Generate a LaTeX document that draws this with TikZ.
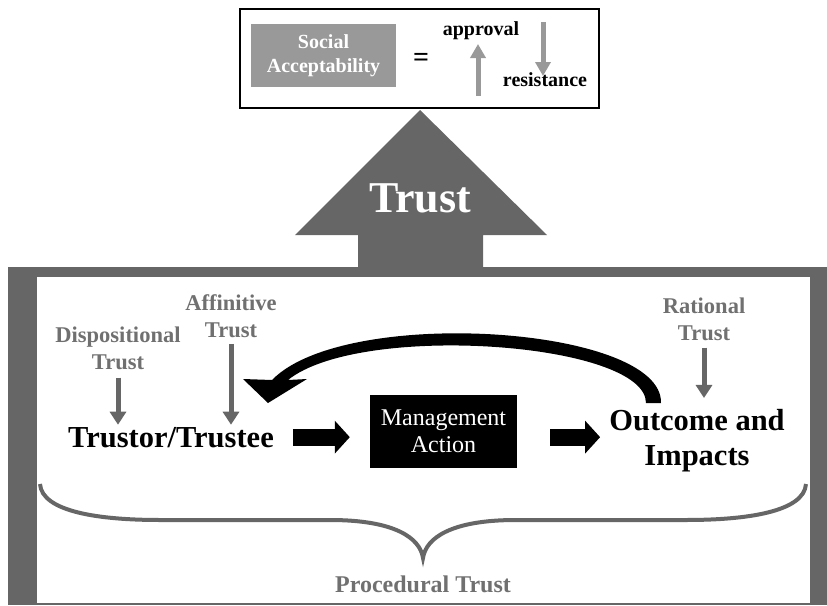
\documentclass[tikz,border=0pt]{standalone}
\usepackage{fontspec}
\setmainfont{Liberation Serif}
\usetikzlibrary{arrows.meta}

\definecolor{framegray}{RGB}{102,102,102}
\definecolor{labelgray}{RGB}{112,112,112}
\definecolor{softgray}{RGB}{153,153,153}

\begin{document}
\begin{tikzpicture}[x=1pt, y=-1pt,
    graylabel/.style={text=labelgray, font=\bfseries\fontsize{22.5}{27}\selectfont, align=center, inner sep=0pt},
    mainlabel/.style={font=\bfseries\fontsize{30.5}{35}\selectfont, align=center, inner sep=0pt},
    grayarrow/.style={draw=framegray, line width=5pt, -{Triangle[length=13pt,width=16pt]}},
    softarrow/.style={draw=softgray, line width=5pt, -{Triangle[length=14pt,width=15pt]}},
    fatarrow/.style={draw=black, line width=17pt, -{Triangle[length=15pt,width=32pt]}}]

    \useasboundingbox (0,0) rectangle (827,605);

    % -------------------------------
    % acceptability box
    % -------------------------------
    \draw[line width=1.2pt] (240,9) rectangle (599,108);
    \node[fill=softgray, text=white, font=\bfseries\fontsize{20}{24}\selectfont, align=center,
          minimum width=145pt, minimum height=63pt] (social) at (323.5,55.5) {Social\\Acceptability};
    \node[font=\bfseries\fontsize{28}{30}\selectfont] (equals) at (421,60) {=};
    \node[font=\bfseries\fontsize{20}{22}\selectfont, anchor=base, inner sep=0pt] (approval) at (481,35) {approval};
    \node[font=\bfseries\fontsize{20}{22}\selectfont, anchor=base, inner sep=0pt] (resistance) at (545,86) {resistance};

    \coordinate (upfoot) at (478,96);
    \coordinate (uptip) at (478,44);
    \coordinate (downfoot) at (543,22);
    \coordinate (downtip) at (543,76);
    \draw[softarrow] (upfoot) -- (uptip);
    \draw[softarrow] (downfoot) -- (downtip);

    % -------------------------------
    % frame and the big arrow
    % -------------------------------
    \fill[framegray] (8,267) rectangle (827,605);
    \fill[white] (37,277) rectangle (810,603);

    \fill[framegray] (420,110) -- (547,235) -- (483,235) -- (483,268)
        -- (358,268) -- (358,235) -- (295,235) -- cycle;
    \node[text=white, font=\bfseries\fontsize{44}{48}\selectfont, anchor=base, inner sep=0pt] (trust) at (420,212) {Trust};

    % -------------------------------
    % main row
    % -------------------------------
    \node[mainlabel, anchor=base] (trustor) at (171,447) {Trustor/Trustee};
    \node[fill=black, text=white, font=\fontsize{24}{27}\selectfont, align=center, inner sep=0pt,
          minimum width=147pt, minimum height=73pt] (mgmt) at (443.5,431.5) {Management\\Action};
    \node[mainlabel] (outcome) at (697,440.5) {Outcome and\\Impacts};

    \draw[fatarrow, shorten <=19pt, shorten >=20pt] (trustor.east) -- (trustor.east -| mgmt.west);
    \draw[fatarrow, shorten <=33pt, shorten >=9pt] (mgmt.east |- trustor.east) -- (outcome.west |- trustor.east);

    % feedback loop, tapered shaft with its head
    \coordinate (fbout) at (661,403);
    \coordinate (fbin) at (646,403);
    \coordinate (fbtip) at (268,403);
    \fill (fbout) .. controls (663,326) and (345,305) .. (272,380)
        -- (243,379) -- (fbtip) -- (307,379) -- (288,380)
        .. controls (360,322) and (646,342) .. (fbin) -- cycle;

    % -------------------------------
    % kinds of trust
    % -------------------------------
    \node[graylabel] (disp) at (118,348) {Dispositional\\Trust};
    \node[graylabel] (affin) at (231,316) {Affinitive\\Trust};
    \node[graylabel] (rational) at (704,319) {Rational\\Trust};

    \draw[grayarrow, shorten <=8pt, shorten >=2pt] (disp.south) -- (disp.south |- trustor.north);
    \draw[grayarrow, shorten <=6pt, shorten >=2pt] (affin.south) -- (affin.south |- trustor.north);
    \draw[grayarrow, shorten <=7pt, shorten >=11pt] (rational.south) -- (rational.south |- outcome.north);

    % procedural brace
    \draw[framegray, line width=4pt] (40,484) .. controls (42,512) and (100,520) .. (160,520)
        -- (330,520) .. controls (395,520) and (420,538) .. (423,558)
        .. controls (426,538) and (451,520) .. (516,520)
        -- (686,520) .. controls (746,520) and (804,512) .. (806,484);
    \node[graylabel, font=\bfseries\fontsize{24}{28}\selectfont, anchor=base] (procedural) at (423,592) {Procedural Trust};

\end{tikzpicture}
\end{document}
